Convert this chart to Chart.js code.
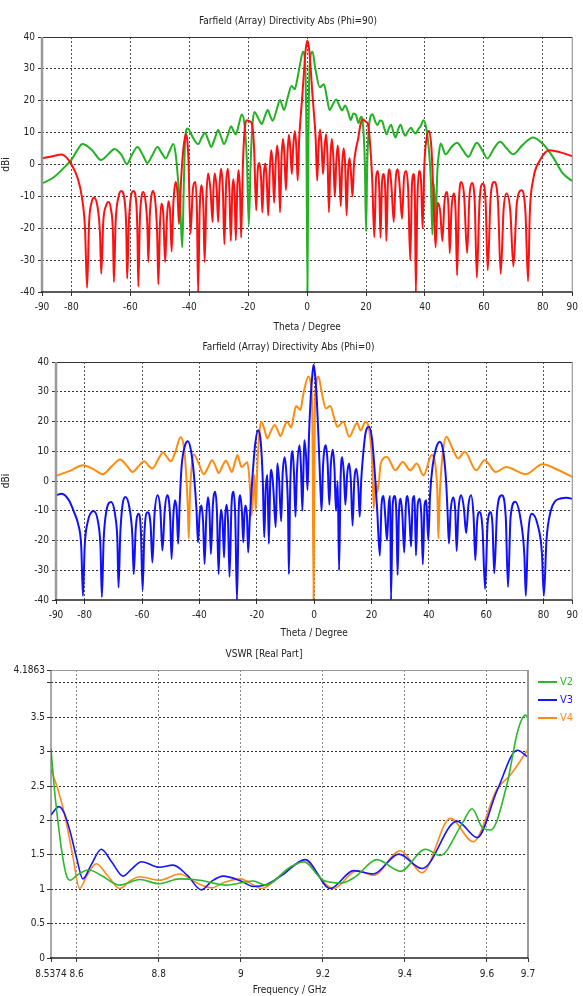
<!DOCTYPE html>
<html>
<head>
<meta charset="utf-8">
<script src="https://cdn.jsdelivr.net/npm/chart.js@4.4.0/dist/chart.umd.min.js"></script>
<style>
html, body { margin: 0; padding: 0; background: #fff; }
body { width: 583px; height: 996px; position: relative; overflow: hidden; }
canvas { position: absolute; left: 0; }
</style>
</head>
<body>
<canvas id="phi90" width="583" height="336" style="top:0px"></canvas>
<canvas id="phi0" width="583" height="314" style="top:326px"></canvas>
<canvas id="vswr" width="583" height="356" style="top:640px"></canvas>
<script>
// ---- tick labels ----
const thetaTicks = [-90, -80, -60, -40, -20, 0, 20, 40, 60, 80, 90];
const dbTicks = [-40, -30, -20, -10, 0, 10, 20, 30, 40];
const freqTicks = [8.5374, 8.6, 8.8, 9, 9.2, 9.4, 9.6, 9.7];
const vswrTicks = [0, 0.5, 1, 1.5, 2, 2.5, 3, 3.5, 4, 4.1863];

// ---- Farfield Phi=90, [theta deg, dBi] ----
const phi90Green = [
  [-90,-6],[-86,-4],[-82,-0.5],[-80,1.5],[-78,4.5],[-76.3,6.4],[-73,4.5],[-70,1.4],[-67.5,3.2],[-65.4,4.9],
  [-63,3],[-61.2,0.1],[-59.5,3],[-57.6,5.5],[-55.8,3],[-54.2,0.5],[-52.5,3],[-50.8,5.5],[-49.3,3.5],[-48,1.9],
  [-46.8,4],[-45.4,6.4],[-44.6,3],[-43.8,-5],[-43,-15],[-42.4,-26],[-41.9,-8],[-41.4,8],[-40.6,11.3],[-38.8,8.5],
  [-37,6.4],[-35.9,8.2],[-34.7,9.9],[-33.5,7.5],[-32.6,5.5],[-31.4,8],[-30.2,10.8],[-29.2,8.6],[-28.2,6.4],[-27,9],
  [-25.8,12],[-25,10.5],[-24.2,9.5],[-23.2,12.5],[-22.2,15.7],[-21.2,12],[-20.4,0],[-19.8,-19],[-19.2,0],[-18.6,12],
  [-17.9,16.5],[-16.6,14.5],[-15.4,12.7],[-14.4,15],[-13.4,17.1],[-12.5,15.2],[-11.7,13.7],[-10.4,17],[-9.2,20.2],[-8.5,18.6],
  [-7.9,17.1],[-6.6,21],[-5.3,24.6],[-4.2,23.6],[-3.3,27],[-2.5,31],[-1.4,35.4],[-0.7,32],[-0.25,10],[0.1,-40],
  [0.45,10],[0.9,32],[1.8,35.4],[2.8,30],[4.3,24.2],[5.7,25.2],[6.7,21],[7.6,17.1],[8.8,19],[9.9,20.4],
  [10.9,18.5],[11.9,17],[12.9,18.5],[13.9,16.5],[14.8,14],[15.7,16],[16.6,15.5],[17.4,13],[18.3,15],[19,12],
  [19.6,0],[20,-21],[20.4,0],[21,12],[22.2,15.8],[23.1,13.5],[23.9,12.4],[24.7,13.8],[25.5,13.5],[26.3,11],
  [27,9.5],[27.8,11.5],[28.5,12.5],[29.3,10],[30,8.5],[30.9,11],[31.7,12.5],[32.5,10.5],[33.3,9],[34.3,10.5],
  [35.2,11.5],[36,10.5],[36.8,9.7],[37.7,11],[38.5,12],[39.5,13.9],[40.5,11],[41.3,5],[42,-5],[42.5,-22],
  [43,-6],[43.6,-18],[44.2,-2],[44.8,4],[45.3,6.6],[47,3.2],[49,5.5],[50.9,6.8],[52.8,4.6],[54.8,2.4],
  [56.3,5],[57.6,6.8],[59.4,4.5],[61.2,1.9],[63.4,5],[65.5,7.1],[67.8,5],[69.9,3.2],[73,6],[76.7,8.5],
  [80,6.5],[83.4,2.4],[86.8,-2.8],[90,-5.2]
];
const phi90Red = [
  [-90,1.9],[-86,2.7],[-83.4,3.1],[-81.5,2],[-80,0],[-78,-4],[-76.5,-10],[-75.4,-20],[-74.7,-38.7],[-74,-18],
  [-73.2,-12],[-72.4,-10.4],[-71.2,-13],[-70.3,-22],[-69.9,-34.3],[-69.2,-18],[-68.2,-12.8],[-67.4,-11.8],[-66.6,-14],[-65.9,-22],
  [-65.6,-36.9],[-65,-18],[-64,-10],[-63.1,-8.3],[-62,-11],[-61.4,-20],[-61.1,-35.8],[-60.5,-18],[-59.8,-10],[-59,-8.3],
  [-58,-12],[-57.6,-22],[-57.3,-38.3],[-56.8,-18],[-56.2,-10],[-55.6,-8.6],[-54.8,-12],[-54.2,-20],[-53.9,-30.6],[-53.4,-16],
  [-52.8,-9.5],[-52.3,-8.3],[-51.5,-12],[-50.9,-22],[-50.5,-37.6],[-50,-20],[-49.5,-12.3],[-48.8,-16],[-48.2,-30.6],[-47.6,-17],
  [-47.1,-11.5],[-46.5,-15],[-46,-27.3],[-45.4,-12],[-44.6,-5.5],[-44,-9],[-43.5,-18.6],[-42.8,-5],[-42,5],[-41.2,9.5],
  [-40.3,2],[-39.6,-21.7],[-38.8,-8],[-37.9,-5.5],[-37.4,-15],[-37,-40],[-36.5,-15],[-35.8,-6.5],[-35.2,-14],[-34.8,-30.6],
  [-34.2,-10],[-33.6,-2.8],[-32.8,-8],[-32.1,-18],[-31.8,-8],[-31.4,-2.8],[-30.7,-8],[-30.2,-18],[-29.7,-6],[-29.2,-1.3],
  [-28.6,-8],[-28.1,-25],[-27.5,-6],[-26.9,-1.3],[-26.4,-8],[-25.9,-24],[-25.4,-8],[-25,-4.6],[-24.6,-10],[-24.2,-23.8],
  [-23.7,-7],[-23.3,-1.8],[-22.8,-8],[-22.4,-23],[-21.8,0],[-21.2,11],[-20.5,13.9],[-19.5,13.5],[-18.8,12.9],[-18,5],
  [-17.3,-14.4],[-16.8,-2],[-16.2,0.5],[-15.6,-5],[-15.2,-15],[-14.7,-3],[-14.2,0.3],[-13.7,-5],[-13.2,-16],[-12.7,-2],
  [-12.2,4.5],[-11.7,0],[-11.2,-12],[-10.7,0],[-10.2,6],[-9.7,1],[-9.2,-15],[-8.7,2],[-8.2,8],[-7.7,3],
  [-7.2,-8],[-6.7,3],[-6.2,9.3],[-5.7,5],[-5.2,-3],[-4.7,6],[-4.2,10.5],[-3.7,6],[-3.2,-5],[-2.7,8],
  [-2.2,14.9],[-1.6,22],[-1,30],[-0.5,36],[0.1,38.9],[0.7,36],[1.2,30],[1.8,22],[2.4,14.9],[2.9,8],
  [3.4,-5],[3.9,6],[4.4,11],[4.9,6],[5.4,-3],[5.9,5],[6.4,9.5],[6.9,3],[7.4,-15],[7.9,2],
  [8.4,8],[8.9,2],[9.4,-10],[9.9,1],[10.4,6],[10.9,0],[11.4,-13],[11.9,0],[12.4,5],[12.9,0],
  [13.4,-16],[13.9,-2],[14.4,2],[14.9,-3],[15.4,-10],[15.9,0],[16.6,5],[17.3,8],[18.1,12.5],[18.9,14.1],
  [19.8,13.5],[20.6,12.8],[21.4,6],[22.1,-5],[22.8,-22.8],[23.4,-4],[24,-2],[24.5,-8],[24.9,-23],[25.4,-6],
  [26,-3],[26.5,-8],[26.9,-24],[27.4,-6],[28,-1.5],[28.7,-8],[29.4,-18],[30.1,-4],[30.8,-1.5],[31.5,-8],
  [32.2,-17],[32.9,-4],[33.6,-2],[34.3,-8],[35,-30],[35.6,-6],[36.2,-3],[36.6,-12],[36.9,-40],[37.4,-12],
  [38,-2],[38.7,-6],[39.2,-20],[39.8,0],[40.5,8],[41.3,10.6],[42.2,5],[42.9,-10],[43.6,-26],[44.3,-12],
  [45.2,-15],[45.9,-24],[46.6,-12],[47.5,-8.6],[48,-14],[48.4,-27.8],[49,-14],[49.8,-9.1],[50.4,-15],[50.9,-34.8],
  [51.5,-12],[52.3,-5.5],[53.3,-10],[54.3,-27.8],[55.1,-10],[55.9,-5.8],[56.9,-12],[57.6,-35.5],[58.5,-12],[59.6,-6],
  [60.6,-12],[61.3,-33.2],[62.3,-10],[63.5,-5.5],[64.8,-12],[65.7,-34.3],[66.7,-14],[67.7,-9.1],[69,-15],[70,-32],
  [71.2,-12],[72.8,-8.1],[74.1,-15],[75,-36.6],[75.6,-15],[76.7,-4.9],[79,1.3],[82.3,4.5],[86,3.8],[90,2.6]
];

// ---- Farfield Phi=0, [theta deg, dBi] ----
const phi0Orange = [
  [-90,1.7],[-85,3.5],[-80.6,5.3],[-77,4],[-73.7,2.3],[-70.5,5],[-67.6,7.2],[-65.2,5],[-63.3,3],[-61.2,5],
  [-59.2,6.6],[-57.6,5],[-56.4,4.2],[-54.5,7],[-52.7,9.6],[-51.3,8],[-50,6.6],[-48.3,10],[-46.6,14.7],[-45.5,12],
  [-44.6,2],[-44,-10],[-43.7,-19.3],[-43.3,-5],[-42.7,5],[-42,9],[-40.3,6],[-38.5,2.3],[-37,4.5],[-35.6,7],
  [-34.4,5],[-33.3,2.7],[-32,5],[-30.8,6.8],[-29.7,5],[-28.7,3],[-27.7,6],[-26.7,8.7],[-26,6.5],[-25.3,4.7],
  [-24.3,5.5],[-23.3,6.3],[-22.5,0],[-21.8,-11.6],[-21.2,-3],[-20.8,2],[-20.4,-9.9],[-19.8,5],[-19.1,16],[-18.4,19.9],
  [-17.4,17.5],[-16.3,14.3],[-15,17],[-13.7,18.8],[-12.7,17],[-11.7,15.1],[-10.5,18],[-9.4,19.9],[-8.7,19],[-8,18],
  [-7.1,22],[-6.3,25.2],[-5.5,24.5],[-4.8,23.9],[-3.8,29],[-2,35.1],[-1.2,33],[-0.6,20],[-0.2,-40],[0.2,20],
  [0.8,33],[1.5,35.1],[2.6,30],[4.1,24.4],[5.6,25.2],[6.9,21.5],[8.1,18.2],[10.2,19.9],[12.2,14.9],[15,19.5],
  [16.2,17],[17.9,19.9],[19.2,17],[20.3,5],[20.8,-9.3],[21.4,0],[22,-3.8],[22.6,0],[23.2,5.9],[25.4,8.1],
  [28.3,3.6],[30.9,6.4],[33.5,3.6],[35.8,5.9],[38.1,1.9],[41,8.7],[42.3,5],[43,-5],[43.3,-19.3],[43.8,-5],
  [44.7,8],[46.1,14.9],[48.2,11],[50.2,7.6],[52.5,9.8],[56.5,3.6],[59.4,7],[63.4,3],[66.9,4.7],[73.8,2.3],
  [79.6,5.6],[85.3,3.6],[90,1.4]
];
const phi0Blue = [
  [-90,-4.8],[-88,-4.3],[-85.5,-6.5],[-83.5,-11],[-82.3,-14.4],[-81.2,-22],[-80.6,-38.6],[-80,-22],[-79,-14],[-76.9,-10.1],
  [-75.3,-14],[-74.5,-22],[-74,-39],[-73.4,-20],[-72.4,-10],[-70.8,-7.1],[-69.3,-12],[-68.6,-20],[-68.2,-35.8],[-67.6,-18],
  [-66.8,-8],[-65.8,-5.4],[-64.4,-9],[-63.4,-18],[-62.9,-31.3],[-62.2,-16],[-61.2,-11],[-60.4,-17],[-59.8,-36.7],[-59.2,-18],
  [-58.1,-10.5],[-57,-15],[-56.4,-27.4],[-55.7,-12],[-54.6,-4.8],[-53.6,-10],[-52.9,-23.4],[-52.1,-10],[-51.2,-4.8],[-50.2,-12],
  [-49.7,-26.2],[-49.1,-12],[-48.5,-6.5],[-47.9,-10],[-47.4,-21.1],[-46.9,-8],[-46.2,5],[-45,12],[-44,13.4],[-42.9,10],
  [-41.9,2],[-41,-10],[-40.5,-20.6],[-39.9,-11],[-39.3,-8.2],[-38.7,-14],[-38.2,-27.9],[-37.6,-12],[-37,-5.5],[-36.5,-10],
  [-36,-24.5],[-35.3,-8],[-34.5,-3.6],[-33.9,-10],[-33.3,-31.3],[-32.8,-14],[-32.4,-9.7],[-31.9,-14],[-31.4,-25.7],[-31,-12],
  [-30.5,-8],[-30,-14],[-29.5,-32.2],[-28.8,-8],[-28.1,-3.6],[-27.5,-12],[-26.9,-40],[-26.3,-10],[-25.8,-4.8],[-25.2,-10],
  [-24.7,-20.6],[-24.3,-11],[-23.9,-8.2],[-23.4,-12],[-23,-24],[-22.4,-12],[-21.6,0],[-20.6,12],[-19.5,17.1],[-18.6,13],
  [-17.9,0],[-17.4,-18.9],[-16.9,-3],[-16.3,2],[-15.8,-21.1],[-15.3,0],[-14.9,3.8],[-14.2,-3],[-13.4,-15.5],[-13,0],
  [-12.8,5.9],[-12.2,0],[-11.5,-13.5],[-11,2],[-10.3,8],[-9.7,3],[-9.1,-10],[-8.8,-31.3],[-8.4,-5],[-8,7],
  [-7.5,10],[-7,2],[-6.5,-12],[-6,3],[-5.1,12],[-4.6,5],[-4.1,-10],[-3.7,5],[-3.4,13.7],[-2.8,8],
  [-2.3,-3],[-1.8,15],[-1.2,28],[-0.6,36],[-0.2,39.1],[0.3,36],[0.9,28],[1.5,15],[2.1,0],[2.6,-10],
  [3.1,5],[4.1,12],[4.7,6],[5.3,-8],[5.8,5],[6.5,10.5],[7.1,4],[7.6,-10],[8.2,0],[8.7,-30],
  [9.2,0],[9.8,8],[10.4,2],[10.9,-8],[11.5,2],[12.2,5.9],[12.8,0],[13.4,-15],[14,0],[14.8,4],
  [15.4,-2],[15.9,-12],[16.4,0],[17.1,9],[17.9,16],[19.1,18.2],[20.2,14],[21.2,2],[22,-10],[22.9,-25.1],
  [23.5,-8],[24.2,-5],[24.8,-12],[25.4,-20],[26,-8],[26.5,-5],[26.8,-40],[27.4,-8],[28.1,-5],[28.7,-12],
  [29.1,-31.6],[29.6,-10],[30.2,-6],[30.8,-12],[31.4,-24],[32,-8],[32.6,-5],[33.2,-12],[33.8,-22],[34.4,-6],
  [35,-5],[35.5,-25],[36.1,-8],[36.8,-6],[37.4,-12],[37.9,-28],[38.5,-8],[39.1,-6.5],[39.8,-20],[40.4,-5],
  [41.3,5],[42.5,11],[43.8,13.2],[45,10],[46,0],[46.5,-10],[47,-21],[47.6,-10],[48.5,-5.5],[49.2,-10],
  [49.7,-23.5],[50.3,-10],[51.2,-4.8],[52.2,-9],[53,-17.5],[53.8,-8],[54.7,-4.8],[55.6,-12],[56.2,-26.6],[56.8,-14],
  [57.6,-10.4],[58.7,-16],[59.6,-36.3],[60.5,-14],[61.6,-10.4],[62.2,-15],[62.8,-31],[63.8,-10],[65.4,-4.8],[66.8,-12],
  [67.6,-35.6],[68.5,-12],[70.1,-7],[72,-13],[73.3,-25],[73.8,-38.6],[74.5,-20],[75.9,-11],[78,-15],[79.4,-24],
  [80.1,-38.6],[81,-20],[82.5,-10],[84,-6.8],[85.9,-5.9],[88,-5.6],[90,-6]
];

// ---- VSWR, [frequency GHz, VSWR] ----
const vswrV2 = [
  [8.5374,3.04],[8.545,2.5],[8.554,2.0],[8.565,1.5],[8.575,1.2],[8.585,1.13],[8.6,1.2],[8.62,1.27],[8.63,1.28],[8.66,1.2],
  [8.705,1.06],[8.754,1.14],[8.801,1.08],[8.851,1.15],[8.9,1.13],[8.965,1.06],[9.03,1.12],[9.06,1.06],[9.12,1.32],[9.153,1.4],
  [9.201,1.13],[9.246,1.09],[9.279,1.18],[9.332,1.43],[9.389,1.26],[9.45,1.58],[9.486,1.49],[9.539,1.95],[9.564,2.17],[9.588,1.9],
  [9.609,1.86],[9.649,2.53],[9.675,3.3],[9.694,3.53],[9.7,3.48]
];
const vswrV3 = [
  [8.5374,2.08],[8.557,2.2],[8.57,2.1],[8.583,1.86],[8.6,1.45],[8.615,1.15],[8.635,1.35],[8.66,1.58],[8.685,1.4],[8.713,1.19],
  [8.735,1.3],[8.758,1.4],[8.801,1.32],[8.835,1.35],[8.87,1.2],[8.904,0.99],[8.93,1.12],[8.957,1.19],[9.0,1.12],[9.03,1.04],
  [9.06,1.06],[9.1,1.2],[9.157,1.43],[9.218,1.01],[9.275,1.27],[9.323,1.22],[9.385,1.51],[9.442,1.3],[9.527,1.99],[9.576,1.75],
  [9.625,2.44],[9.674,3.02],[9.7,2.92]
];
const vswrV4 = [
  [8.5374,2.74],[8.55,2.53],[8.57,2.1],[8.59,1.5],[8.607,1.01],[8.625,1.2],[8.648,1.37],[8.675,1.2],[8.705,1.01],[8.73,1.12],
  [8.754,1.18],[8.801,1.13],[8.851,1.22],[8.89,1.1],[8.929,1.02],[8.96,1.1],[8.998,1.15],[9.051,1.01],[9.1,1.22],[9.153,1.4],
  [9.226,1.01],[9.283,1.27],[9.323,1.2],[9.389,1.56],[9.442,1.24],[9.511,2.03],[9.566,1.69],[9.625,2.46],[9.657,2.66],[9.7,3.03]
];

const FONT = '"Liberation Sans Narrow", "DejaVu Sans Condensed", "Liberation Sans", Arial, sans-serif';
const TEXT = '#222';

const toPoints = pairs => pairs.map(p => ({ x: p[0], y: p[1] }));

// plot frame: grey left axis, dark bottom axis, thin top/right edges
const framePlugin = {
  id: 'frame',
  afterDraw(chart, args, opts) {
    const { ctx, chartArea: a } = chart;
    ctx.save();
    ctx.lineCap = 'butt';
    ctx.strokeStyle = opts.top; ctx.lineWidth = 1;
    ctx.beginPath(); ctx.moveTo(a.left, a.top + 0.5); ctx.lineTo(a.right, a.top + 0.5); ctx.stroke();
    ctx.strokeStyle = opts.right; ctx.lineWidth = opts.rightWidth;
    ctx.beginPath(); ctx.moveTo(a.right, a.top); ctx.lineTo(a.right, a.bottom); ctx.stroke();
    ctx.strokeStyle = opts.left; ctx.lineWidth = opts.leftWidth;
    ctx.beginPath(); ctx.moveTo(a.left, a.top); ctx.lineTo(a.left, a.bottom); ctx.stroke();
    ctx.strokeStyle = '#222'; ctx.lineWidth = 1.5;
    ctx.beginPath(); ctx.moveTo(a.left - 1, a.bottom); ctx.lineTo(a.right, a.bottom); ctx.stroke();
    ctx.restore();
  }
};

// legend drawn to the right of the plot
const sideLegend = {
  id: 'sideLegend',
  afterDraw(chart, args, opts) {
    if (!opts.x) return;
    const ctx = chart.ctx;
    ctx.save();
    ctx.font = '11px ' + FONT;
    ctx.textBaseline = 'middle';
    chart.data.datasets.forEach((ds, i) => {
      const y = opts.y + i * opts.step;
      ctx.strokeStyle = ds.borderColor; ctx.lineWidth = 2;
      ctx.beginPath(); ctx.moveTo(opts.x, y); ctx.lineTo(opts.x + 19, y); ctx.stroke();
      ctx.fillStyle = ds.borderColor;
      ctx.fillText(ds.label, opts.x + 22, y);
    });
    ctx.restore();
  }
};

function fixedTicks(values) {
  return scale => { scale.ticks = values.map(v => ({ value: v })); };
}

function axis(cfg) {
  return {
    type: 'linear',
    min: cfg.min, max: cfg.max,
    afterBuildTicks: fixedTicks(cfg.ticks),
    afterFit: cfg.fit,
    ticks: {
      color: TEXT, padding: cfg.pad, autoSkip: false, maxRotation: 0,
      font: { family: FONT, size: 10 },
      callback: cfg.label || (v => String(v))
    },
    grid: {
      color: c => (c.tick && (c.tick.value === cfg.min || c.tick.value === cfg.max || (cfg.noGrid && cfg.noGrid.includes(c.tick.value)))) ? 'rgba(0,0,0,0)' : cfg.gridColor,
      lineWidth: 1, drawTicks: true, tickLength: 4, tickColor: '#333', tickWidth: 1,
      borderDash: [2, 2], tickBorderDash: []
    },
    border: { display: false, dash: [2, 2] },
    title: {
      display: !!cfg.title, text: cfg.title, color: TEXT,
      font: { family: FONT, size: 10 }, padding: cfg.titlePad || 0
    }
  };
}

function lineSet(label, pairs, color, width) {
  return {
    label, data: toPoints(pairs), borderColor: color, backgroundColor: color,
    borderWidth: width, pointRadius: 0, fill: false,
    cubicInterpolationMode: 'monotone'
  };
}

function farfieldChart(id, title, sets, geo) {
  return new Chart(document.getElementById(id), {
    type: 'line',
    data: { datasets: sets },
    options: {
      responsive: false, animation: false, parsing: false,
      layout: { padding: { left: 0, right: geo.padRight, top: 0, bottom: 0 } },
      plugins: {
        legend: { display: false }, tooltip: { enabled: false },
        title: {
          display: true, text: title, color: TEXT,
          font: { family: FONT, size: 10, weight: 'normal' },
          padding: { top: geo.titleTop, bottom: geo.titleBottom }
        },
        frame: { top: '#333', right: '#888', rightWidth: 1, left: '#999', leftWidth: 2.5 },
        sideLegend: {}
      },
      scales: {
        x: axis({ min: -90, max: 90, ticks: thetaTicks, pad: 5, gridColor: '#555',
          title: 'Theta / Degree', titlePad: { top: 0, bottom: geo.xTitleBottom },
          fit: s => { s.height = geo.xHeight; } }),
        y: axis({ min: -40, max: 40, ticks: dbTicks, pad: 3, gridColor: '#333',
          title: 'dBi', titlePad: { top: 0, bottom: geo.yTitlePad },
          fit: s => { s.width = geo.yWidth; } })
      }
    },
    plugins: [framePlugin, sideLegend]
  });
}

farfieldChart('phi90', 'Farfield (Array) Directivity Abs (Phi=90)', [
  lineSet('Phi=90 red', phi90Red, '#ff1010', 2),
  lineSet('Phi=90 green', phi90Green, '#22b222', 2)
], { padRight: 7, titleTop: 15, titleBottom: 10, xHeight: 44, xTitleBottom: 3, yWidth: 42, yTitlePad: 4 });

farfieldChart('phi0', 'Farfield (Array) Directivity Abs (Phi=0)', [
  lineSet('Phi=0 blue', phi0Blue, '#1010ff', 2),
  lineSet('Phi=0 orange', phi0Orange, '#ff8c10', 2)
], { padRight: 6, titleTop: 15, titleBottom: 9, xHeight: 40, xTitleBottom: 1, yWidth: 56, yTitlePad: 18 });

new Chart(document.getElementById('vswr'), {
  type: 'line',
  data: {
    datasets: [
      lineSet('V2', vswrV2, '#2cb82c', 1.6),
      lineSet('V3', vswrV3, '#1515ff', 1.6),
      lineSet('V4', vswrV4, '#ff8a1a', 1.6)
    ]
  },
  options: {
    responsive: false, animation: false, parsing: false,
    layout: { padding: { left: 0, right: 55, top: 0, bottom: 0 } },
    plugins: {
      legend: { display: false }, tooltip: { enabled: false },
      title: {
        display: true, text: 'VSWR [Real Part]', color: TEXT,
        font: { family: FONT, size: 10, weight: 'normal' },
        padding: { top: 8, bottom: 10 }
      },
      frame: { top: '#999', right: '#999', rightWidth: 2, left: '#555', leftWidth: 1 },
      sideLegend: { x: 538, y: 42, step: 18 }
    },
    scales: {
      x: axis({ min: 8.5374, max: 9.7, ticks: freqTicks, pad: 6, gridColor: '#888',
        title: 'Frequency / GHz', titlePad: { top: 0, bottom: 0 },
        fit: s => { s.height = 38; } }),
      y: axis({ min: 0, max: 4.1863, ticks: vswrTicks, pad: 2, gridColor: '#333',
        label: v => (v === 4 ? '' : String(v)),
        fit: s => { s.width = 51; } })
    }
  },
  plugins: [framePlugin, sideLegend]
});
</script>
</body>
</html>
